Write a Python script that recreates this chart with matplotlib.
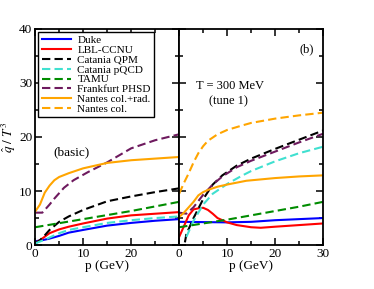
import numpy as np
import matplotlib.pyplot as plt
from matplotlib.ticker import MultipleLocator

plt.rcParams['font.family'] = ['Liberation Serif', 'DejaVu Serif']
plt.rcParams['mathtext.fontset'] = 'stix'

# ---- left panel (basic) ----
duke_p = [0, 2, 3, 5, 7, 10, 15, 20, 25, 30]
duke_q = [0.7, 1.0, 1.2, 1.7, 2.3, 2.8, 3.6, 4.1, 4.5, 4.8]
lbl_p = [0, 1, 3, 5, 7, 10, 15, 20, 25, 30]
lbl_q = [0.4, 0.9, 2.2, 2.9, 3.4, 4.0, 4.9, 5.5, 5.8, 6.1]
qpm_p = [0, 1, 2, 3, 5, 7, 10, 15, 20, 25, 30]
qpm_q = [0.3, 0.9, 1.8, 2.8, 4.3, 5.3, 6.5, 8.1, 9.0, 9.8, 10.5]
pqcd_p = [0, 2, 5, 7, 10, 15, 20, 25, 30]
pqcd_q = [0.3, 1.0, 2.2, 2.8, 3.3, 4.1, 4.6, 5.0, 5.3]
tamu_p = [0, 10, 20, 30]
tamu_q = [3.3, 4.8, 6.3, 8.0]
phsd_p = [0, 1.5, 3, 4, 6, 8, 11, 15, 20, 25, 30]
phsd_q = [6.0, 6.0, 7.5, 8.6, 10.6, 12.0, 13.5, 15.3, 17.9, 19.4, 20.5]
nrad_p = [0, 1, 2, 3, 4, 5, 7, 10, 15, 20, 25, 30]
nrad_q = [6.2, 7.5, 9.7, 11.0, 12.0, 12.6, 13.3, 14.2, 15.2, 15.7, 16.0, 16.3]

# ---- right panel (b), T = 300 MeV, tune 1 ----
duke2_p = [0, 10, 15, 20, 30]
duke2_q = [4.3, 4.2, 4.3, 4.6, 5.0]
lbl2_p = [0, 1, 2, 3, 4, 5, 6, 7, 8, 10, 12, 15, 17, 20, 25, 30]
lbl2_q = [1.5, 3.5, 5.5, 6.6, 6.8, 6.9, 6.5, 5.8, 5.0, 4.2, 3.7, 3.3, 3.2, 3.4, 3.7, 4.0]
qpm2_p = [1.2, 1.5, 3, 5, 7, 9, 12, 15, 20, 25, 30]
qpm2_q = [0.5, 2.0, 5.0, 8.5, 11.2, 12.9, 14.7, 16.0, 17.8, 19.5, 21.2]
pqcd2_p = [1.5, 3, 5, 7, 10, 13, 15, 20, 25, 30]
pqcd2_q = [1.5, 4.5, 7.5, 9.5, 11.3, 12.8, 13.7, 15.5, 17.0, 18.2]
tamu2_p = [0, 5, 10, 15, 20, 25, 30]
tamu2_q = [3.3, 4.0, 4.7, 5.5, 6.3, 7.1, 8.0]
phsd2_p = [0, 1.5, 3, 5, 7, 9, 12, 15, 20, 25, 30]
phsd2_q = [6.0, 5.8, 7.0, 9.3, 11.2, 12.7, 14.4, 15.6, 17.3, 19.0, 20.6]
nrad2_p = [0, 1, 2, 3, 4, 5, 6, 8, 10, 14, 20, 25, 30]
nrad2_q = [5.2, 6.0, 7.0, 8.0, 9.2, 9.8, 10.2, 10.8, 11.2, 11.9, 12.4, 12.7, 12.9]
ncol2_p = [0, 1, 2, 3, 4, 5, 6, 8, 10, 13, 15, 20, 25, 30]
ncol2_q = [9.5, 11.5, 13.3, 15.3, 17.0, 18.3, 19.3, 20.5, 21.3, 22.1, 22.6, 23.4, 24.0, 24.5]

c_duke = '#0000ff'
c_lbl = '#ff0000'
c_qpm = '#000000'
c_pqcd = '#40e0d0'
c_tamu = '#008c00'
c_phsd = '#6e1a5e'
c_nant = '#ffa500'
lw = 1.5
dash = (4, 2)

fig = plt.figure(figsize=(3.74, 2.89), dpi=100)
ax1 = fig.add_axes([0.094, 0.152, 0.385, 0.748])
ax2 = fig.add_axes([0.479, 0.152, 0.385, 0.748])

ax1.plot(duke_p, duke_q, color=c_duke, lw=lw, label='Duke')
ax1.plot(lbl_p, lbl_q, color=c_lbl, lw=lw, label='LBL-CCNU')
ax1.plot(qpm_p, qpm_q, color=c_qpm, lw=lw, dashes=dash, label='Catania QPM')
ax1.plot(pqcd_p, pqcd_q, color=c_pqcd, lw=lw, dashes=dash, label='Catania pQCD')
ax1.plot(tamu_p, tamu_q, color=c_tamu, lw=lw, dashes=dash, label='TAMU')
ax1.plot(phsd_p, phsd_q, color=c_phsd, lw=lw, dashes=dash, label='Frankfurt PHSD')
ax1.plot(nrad_p, nrad_q, color=c_nant, lw=lw, label='Nantes col.+rad.')
ax1.plot([], [], color=c_nant, lw=lw, dashes=dash, label='Nantes col.')

ax2.plot(duke2_p, duke2_q, color=c_duke, lw=lw)
ax2.plot(lbl2_p, lbl2_q, color=c_lbl, lw=lw)
ax2.plot(qpm2_p, qpm2_q, color=c_qpm, lw=lw, dashes=dash)
ax2.plot(pqcd2_p, pqcd2_q, color=c_pqcd, lw=lw, dashes=dash)
ax2.plot(tamu2_p, tamu2_q, color=c_tamu, lw=lw, dashes=dash)
ax2.plot(phsd2_p, phsd2_q, color=c_phsd, lw=lw, dashes=dash)
ax2.plot(nrad2_p, nrad2_q, color=c_nant, lw=lw)
ax2.plot(ncol2_p, ncol2_q, color=c_nant, lw=lw, dashes=dash)

for ax in (ax1, ax2):
    ax.set_xlim(0, 30)
    ax.set_ylim(0, 40)
    ax.xaxis.set_major_locator(MultipleLocator(10))
    ax.xaxis.set_minor_locator(MultipleLocator(5))
    ax.yaxis.set_major_locator(MultipleLocator(10))
    ax.yaxis.set_minor_locator(MultipleLocator(5))
    ax.tick_params(which='both', direction='in', top=True, right=True,
                   labelsize=9.5, pad=2)
    ax.tick_params(which='major', length=5, width=1.1)
    ax.tick_params(which='minor', length=3, width=1.1)
    for s in ax.spines.values():
        s.set_linewidth(1.3)
    ax.set_xlabel('p (GeV)', fontsize=9.5, labelpad=0)

ax1.set_xticks([0, 10, 20])
ax1.set_xticks([5, 15, 25], minor=True)
ax1.set_ylabel(r'$\hat{q}\ /\ T^3$', fontsize=9.5, labelpad=1)
ax2.set_yticklabels([])

ax1.legend(loc='upper left', fontsize=8, frameon=True, fancybox=False,
           edgecolor='black', framealpha=1, handlelength=2.6,
           labelspacing=0.0, borderpad=0.3, borderaxespad=0.3,
           handletextpad=0.6).get_frame().set_linewidth(1.0)

ax1.text(7.5, 17.2, '(basic)', fontsize=9.5, ha='center', va='center')
ax2.text(26.5, 36.2, '(b)', fontsize=9, ha='center', va='center')
ax2.text(10.6, 29.5, 'T = 300 MeV', fontsize=9, ha='center', va='center')
ax2.text(10.2, 26.6, '(tune 1)', fontsize=9, ha='center', va='center')

fig.savefig('out.png', dpi=100)
